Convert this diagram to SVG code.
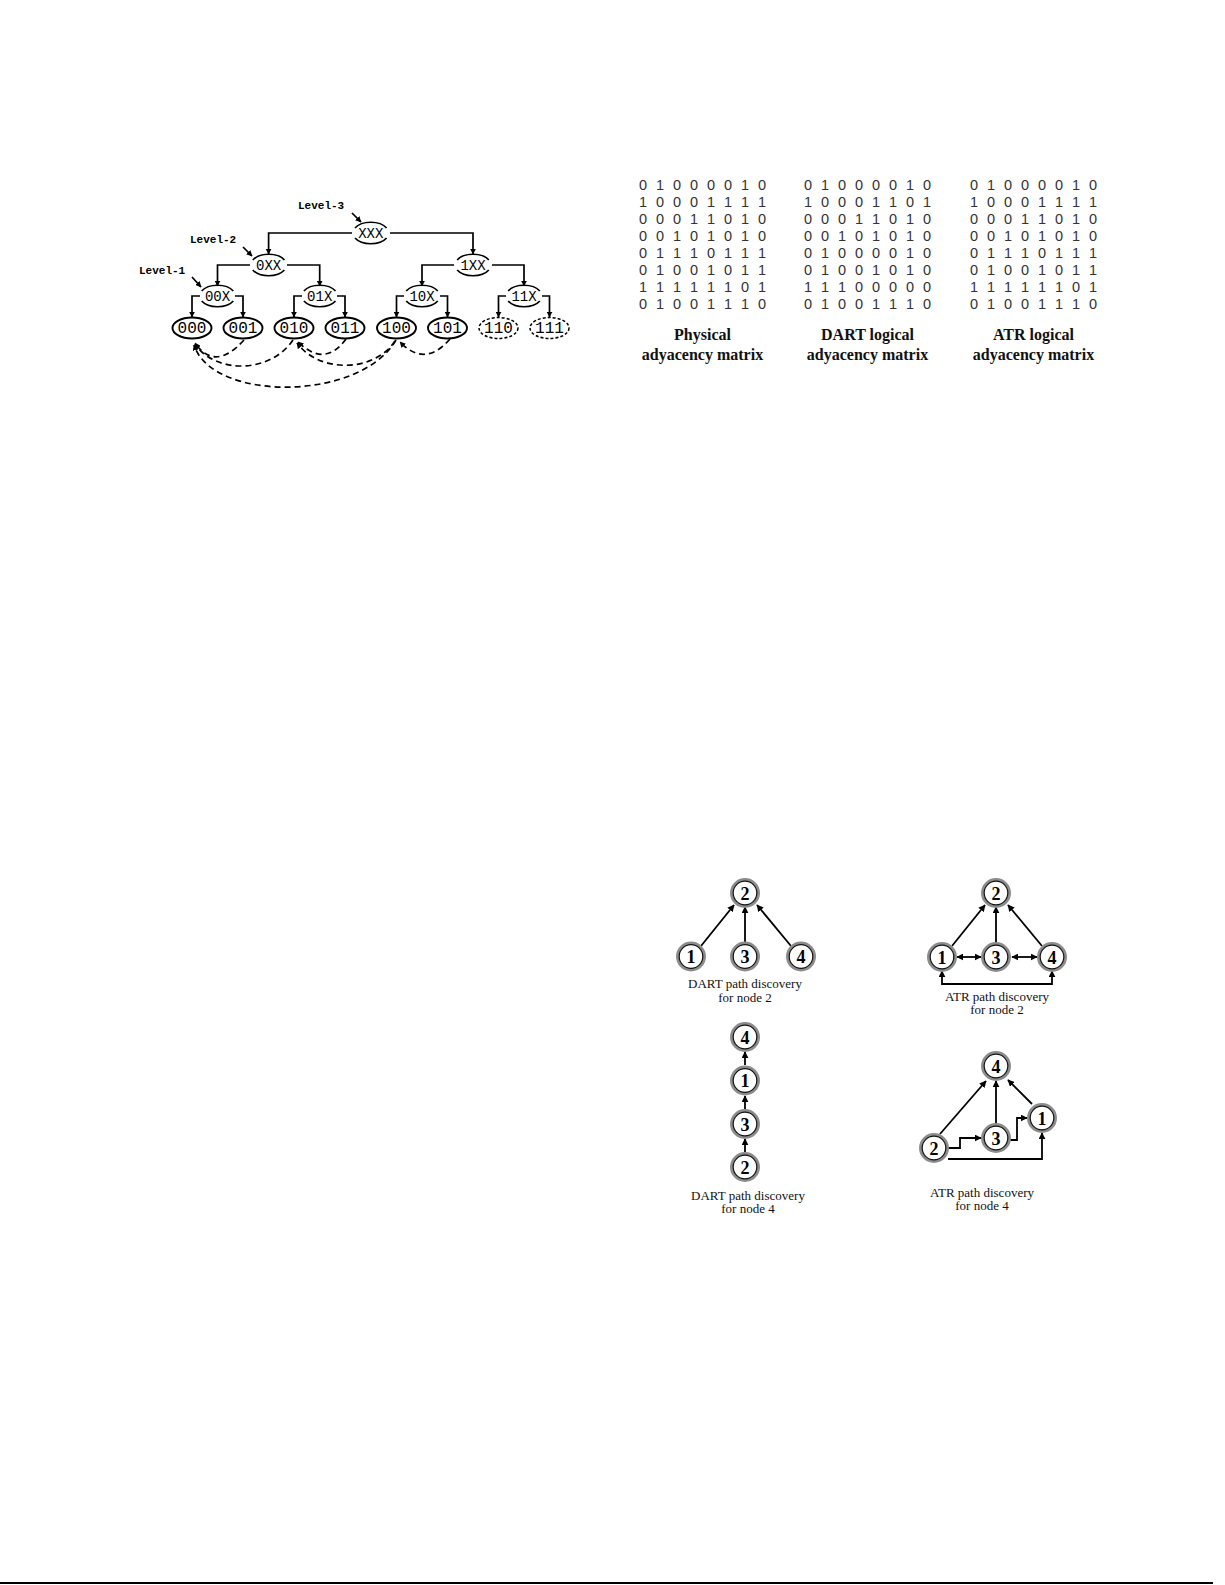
<svg xmlns="http://www.w3.org/2000/svg" width="1225" height="1585" viewBox="0 0 1225 1585">
<style>
.bg{fill:#fff}
.ln{fill:none;stroke:#000;stroke-width:1.7}
.dl{fill:none;stroke:#000;stroke-width:1.7;stroke-dasharray:6 4}
.arc{fill:none;stroke:#000;stroke-width:1.7}
.leaf{fill:#fff;stroke:#000;stroke-width:1.9}
.leafd{fill:#fff;stroke:#000;stroke-width:1.5;stroke-dasharray:3 2}
.lt{font-family:"Liberation Mono",monospace;font-size:16px;text-anchor:middle;fill:#000}
.nl{font-family:"Liberation Mono",monospace;font-size:14px;text-anchor:middle;fill:#000}
.lvl{font-family:"Liberation Mono",monospace;font-size:11px;font-weight:bold;fill:#000}
.mx{font-family:"Liberation Sans",Arial,sans-serif;font-size:14.5px;fill:#333;text-anchor:middle}
.mc{font-family:"Liberation Serif",serif;font-size:16px;font-weight:bold;fill:#111;text-anchor:middle}
.gc{font-family:"Liberation Serif",serif;font-size:13px;fill:#111;text-anchor:middle}
.no{fill:#fff;stroke:#8c8c8c;stroke-width:3}
.ni{fill:none;stroke:#111;stroke-width:1.2}
.nt{font-family:"Liberation Serif",serif;font-size:18px;font-weight:bold;text-anchor:middle;fill:#000}
.ga{fill:none;stroke:#000;stroke-width:1.8}
</style>
<defs>
<marker id="t" viewBox="0 0 10 10" refX="9" refY="5" markerUnits="userSpaceOnUse" markerWidth="6" markerHeight="6" orient="auto"><path d="M0,0 L10,5 L0,10 z" fill="#000"/></marker>
<marker id="g" viewBox="0 0 10 10" refX="9" refY="5" markerUnits="userSpaceOnUse" markerWidth="7" markerHeight="7" orient="auto-start-reverse"><path d="M0,0 L10,5 L0,10 z" fill="#000"/></marker>
</defs>
<rect class="bg" x="0" y="0" width="1225" height="1585"/>

<!-- Tree -->
<g id="tree-labels">
<text class="lvl" x="298" y="209">Level-3</text>
<text class="lvl" x="190" y="243">Level-2</text>
<text class="lvl" x="139" y="274">Level-1</text>
</g>
<g id="n-XXX"><path class="arc" d="M355,228 A18,11 0 0 1 386.6,228 M355,238 A18,11 0 0 0 386.6,238"/><text class="nl" x="370.8" y="238">XXX</text></g>
<g id="n-0XX"><path class="arc" d="M252.8,260 A18,11 0 0 1 284.4,260 M252.8,270 A18,11 0 0 0 284.4,270"/><text class="nl" x="268.6" y="270">0XX</text></g>
<g id="n-1XX"><path class="arc" d="M457.2,260 A18,11 0 0 1 488.8,260 M457.2,270 A18,11 0 0 0 488.8,270"/><text class="nl" x="473" y="270">1XX</text></g>
<g id="n-00X"><path class="arc" d="M201.7,291 A18,11 0 0 1 233.3,291 M201.7,301 A18,11 0 0 0 233.3,301"/><text class="nl" x="217.5" y="301">00X</text></g>
<g id="n-01X"><path class="arc" d="M303.9,291 A18,11 0 0 1 335.5,291 M303.9,301 A18,11 0 0 0 335.5,301"/><text class="nl" x="319.7" y="301">01X</text></g>
<g id="n-10X"><path class="arc" d="M406.2,291 A18,11 0 0 1 437.8,291 M406.2,301 A18,11 0 0 0 437.8,301"/><text class="nl" x="422" y="301">10X</text></g>
<g id="n-11X"><path class="arc" d="M508.2,291 A18,11 0 0 1 539.8,291 M508.2,301 A18,11 0 0 0 539.8,301"/><text class="nl" x="524" y="301">11X</text></g>
<g id="n-000"><ellipse class="leaf" cx="192" cy="328" rx="19.5" ry="10.5"/><text class="lt" x="192" y="333">000</text></g>
<g id="n-001"><ellipse class="leaf" cx="243" cy="328" rx="19.5" ry="10.5"/><text class="lt" x="243" y="333">001</text></g>
<g id="n-010"><ellipse class="leaf" cx="294" cy="328" rx="19.5" ry="10.5"/><text class="lt" x="294" y="333">010</text></g>
<g id="n-011"><ellipse class="leaf" cx="345" cy="328" rx="19.5" ry="10.5"/><text class="lt" x="345" y="333">011</text></g>
<g id="n-100"><ellipse class="leaf" cx="396.5" cy="328" rx="19.5" ry="10.5"/><text class="lt" x="396.5" y="333">100</text></g>
<g id="n-101"><ellipse class="leaf" cx="447.5" cy="328" rx="19.5" ry="10.5"/><text class="lt" x="447.5" y="333">101</text></g>
<g id="n-110"><ellipse class="leafd" cx="498.5" cy="328" rx="19.5" ry="10.5"/><text class="lt" x="498.5" y="333">110</text></g>
<g id="n-111"><ellipse class="leafd" cx="549.5" cy="328" rx="19.5" ry="10.5"/><text class="lt" x="549.5" y="333">111</text></g>

<g id="tree-connectors">
<path class="ln" marker-end="url(#t)" d="M352,213 L361,222"/>
<path class="ln" marker-end="url(#t)" d="M243,247 L252,256"/>
<path class="ln" marker-end="url(#t)" d="M192,277 L201,287"/>
<path class="ln" marker-end="url(#t)" d="M352,233 H268.6 V254"/>
<path class="ln" marker-end="url(#t)" d="M390,233 H473 V254"/>
<path class="ln" marker-end="url(#t)" d="M250,265 H217.5 V286"/>
<path class="ln" marker-end="url(#t)" d="M287,265 H319.7 V286"/>
<path class="ln" marker-end="url(#t)" d="M454,265 H422 V286"/>
<path class="ln" marker-end="url(#t)" d="M492,265 H524 V286"/>
<path class="ln" marker-end="url(#t)" d="M200,296 H192 V317"/>
<path class="ln" marker-end="url(#t)" d="M235,296 H243 V317"/>
<path class="ln" marker-end="url(#t)" d="M302,296 H294 V317"/>
<path class="ln" marker-end="url(#t)" d="M337,296 H345 V317"/>
<path class="ln" marker-end="url(#t)" d="M404,296 H396.5 V317"/>
<path class="ln" marker-end="url(#t)" d="M440,296 H447.5 V317"/>
<path class="ln" marker-end="url(#t)" d="M506,296 H498.5 V317"/>
<path class="ln" marker-end="url(#t)" d="M542,296 H549.5 V317"/>
<path class="dl" marker-end="url(#t)" d="M244,340 Q215,372 195,343"/>
<path class="dl" marker-end="url(#t)" d="M293,340 C270,374 215,374 195,344"/>
<path class="dl" marker-end="url(#t)" d="M396,340 C360,402 212,402 194,345"/>
<path class="dl" marker-end="url(#t)" d="M346,339 Q325,368 298,342"/>
<path class="dl" marker-end="url(#t)" d="M395,341 C375,372 320,374 297,343"/>
<path class="dl" marker-end="url(#t)" d="M450,339 Q425,368 400,342"/>
</g>

<!-- Matrices -->
<g id="m-physical">
<text class="mx" x="643 660 677 694 711 728 745 762" y="190">01000010</text>
<text class="mx" x="643 660 677 694 711 728 745 762" y="207">10001111</text>
<text class="mx" x="643 660 677 694 711 728 745 762" y="224">00011010</text>
<text class="mx" x="643 660 677 694 711 728 745 762" y="241">00101010</text>
<text class="mx" x="643 660 677 694 711 728 745 762" y="258">01110111</text>
<text class="mx" x="643 660 677 694 711 728 745 762" y="275">01001011</text>
<text class="mx" x="643 660 677 694 711 728 745 762" y="292">11111101</text>
<text class="mx" x="643 660 677 694 711 728 745 762" y="308.5">01001110</text>
<text class="mc" x="702.5" y="340">Physical</text>
<text class="mc" x="702.5" y="360">adyacency matrix</text>
</g>
<g id="m-dart">
<text class="mx" x="808 825 842 859 876 893 910 927" y="190">01000010</text>
<text class="mx" x="808 825 842 859 876 893 910 927" y="207">10001101</text>
<text class="mx" x="808 825 842 859 876 893 910 927" y="224">00011010</text>
<text class="mx" x="808 825 842 859 876 893 910 927" y="241">00101010</text>
<text class="mx" x="808 825 842 859 876 893 910 927" y="258">01000010</text>
<text class="mx" x="808 825 842 859 876 893 910 927" y="275">01001010</text>
<text class="mx" x="808 825 842 859 876 893 910 927" y="292">11100000</text>
<text class="mx" x="808 825 842 859 876 893 910 927" y="308.5">01001110</text>
<text class="mc" x="867.5" y="340">DART logical</text>
<text class="mc" x="867.5" y="360">adyacency matrix</text>
</g>
<g id="m-atr">
<text class="mx" x="974 991 1008 1025 1042 1059 1076 1093" y="190">01000010</text>
<text class="mx" x="974 991 1008 1025 1042 1059 1076 1093" y="207">10001111</text>
<text class="mx" x="974 991 1008 1025 1042 1059 1076 1093" y="224">00011010</text>
<text class="mx" x="974 991 1008 1025 1042 1059 1076 1093" y="241">00101010</text>
<text class="mx" x="974 991 1008 1025 1042 1059 1076 1093" y="258">01110111</text>
<text class="mx" x="974 991 1008 1025 1042 1059 1076 1093" y="275">01001011</text>
<text class="mx" x="974 991 1008 1025 1042 1059 1076 1093" y="292">11111101</text>
<text class="mx" x="974 991 1008 1025 1042 1059 1076 1093" y="308.5">01001110</text>
<text class="mc" x="1033.5" y="340">ATR logical</text>
<text class="mc" x="1033.5" y="360">adyacency matrix</text>
</g>

<!-- Graph connectors -->
<g id="graph-connectors">
<path class="ga" marker-end="url(#g)" d="M701,946 L734,905"/>
<path class="ga" marker-end="url(#g)" d="M745,943 L745,907"/>
<path class="ga" marker-end="url(#g)" d="M791,946 L757,905"/>
<path class="ga" marker-end="url(#g)" d="M952,946 L985,905"/>
<path class="ga" marker-end="url(#g)" d="M996,943 L996,907"/>
<path class="ga" marker-end="url(#g)" d="M1042,946 L1008,905"/>
<path class="ga" marker-start="url(#g)" marker-end="url(#g)" d="M957,957 L981,957"/>
<path class="ga" marker-start="url(#g)" marker-end="url(#g)" d="M1012,957 L1037,957"/>
<path class="ga" marker-start="url(#g)" marker-end="url(#g)" d="M942,971 V984 H1052 V971"/>
<path class="ga" marker-end="url(#g)" d="M745,1152 L745,1139"/>
<path class="ga" marker-end="url(#g)" d="M745,1109 L745,1096"/>
<path class="ga" marker-end="url(#g)" d="M745,1065 L745,1052"/>
<path class="ga" marker-end="url(#g)" d="M940,1134 L986,1081"/>
<path class="ga" marker-end="url(#g)" d="M996,1124 L996,1081"/>
<path class="ga" marker-end="url(#g)" d="M1032,1104 L1008,1080"/>
<path class="ga" marker-end="url(#g)" d="M948,1148 H960 V1138 H981"/>
<path class="ga" marker-end="url(#g)" d="M1010,1140 H1017 V1118 H1027"/>
<path class="ga" marker-end="url(#g)" d="M948,1159 H1042 V1133"/>
</g>

<!-- DART node 2 -->
<g id="d2-n2"><circle class="no" cx="745" cy="893" r="13.5"/><circle class="ni" cx="745" cy="893" r="11.8"/><text class="nt" x="745" y="899.5">2</text></g>
<g id="d2-n1"><circle class="no" cx="691" cy="956.5" r="13.5"/><circle class="ni" cx="691" cy="956.5" r="11.8"/><text class="nt" x="691" y="963">1</text></g>
<g id="d2-n3"><circle class="no" cx="745" cy="956.5" r="13.5"/><circle class="ni" cx="745" cy="956.5" r="11.8"/><text class="nt" x="745" y="963">3</text></g>
<g id="d2-n4"><circle class="no" cx="801" cy="956.5" r="13.5"/><circle class="ni" cx="801" cy="956.5" r="11.8"/><text class="nt" x="801" y="963">4</text></g>
<g id="d2-label"><text class="gc" x="745" y="988">DART path discovery</text><text class="gc" x="745" y="1002">for node 2</text></g>

<!-- ATR node 2 -->
<g id="a2-n2"><circle class="no" cx="996" cy="893" r="13.5"/><circle class="ni" cx="996" cy="893" r="11.8"/><text class="nt" x="996" y="899.5">2</text></g>
<g id="a2-n1"><circle class="no" cx="942" cy="957" r="13.5"/><circle class="ni" cx="942" cy="957" r="11.8"/><text class="nt" x="942" y="963.5">1</text></g>
<g id="a2-n3"><circle class="no" cx="996" cy="957" r="13.5"/><circle class="ni" cx="996" cy="957" r="11.8"/><text class="nt" x="996" y="963.5">3</text></g>
<g id="a2-n4"><circle class="no" cx="1052" cy="957" r="13.5"/><circle class="ni" cx="1052" cy="957" r="11.8"/><text class="nt" x="1052" y="963.5">4</text></g>
<g id="a2-label"><text class="gc" x="997" y="1001">ATR path discovery</text><text class="gc" x="997" y="1014">for node 2</text></g>

<!-- DART node 4 -->
<g id="d4-n4"><circle class="no" cx="745" cy="1037" r="13.5"/><circle class="ni" cx="745" cy="1037" r="11.8"/><text class="nt" x="745" y="1043.5">4</text></g>
<g id="d4-n1"><circle class="no" cx="745" cy="1080.5" r="13.5"/><circle class="ni" cx="745" cy="1080.5" r="11.8"/><text class="nt" x="745" y="1087">1</text></g>
<g id="d4-n3"><circle class="no" cx="745" cy="1124" r="13.5"/><circle class="ni" cx="745" cy="1124" r="11.8"/><text class="nt" x="745" y="1130.5">3</text></g>
<g id="d4-n2"><circle class="no" cx="745" cy="1167" r="13.5"/><circle class="ni" cx="745" cy="1167" r="11.8"/><text class="nt" x="745" y="1173.5">2</text></g>
<g id="d4-label"><text class="gc" x="748" y="1200">DART path discovery</text><text class="gc" x="748" y="1213">for node 4</text></g>

<!-- ATR node 4 -->
<g id="a4-n4"><circle class="no" cx="996" cy="1066" r="13.5"/><circle class="ni" cx="996" cy="1066" r="11.8"/><text class="nt" x="996" y="1072.5">4</text></g>
<g id="a4-n1"><circle class="no" cx="1042" cy="1118" r="13.5"/><circle class="ni" cx="1042" cy="1118" r="11.8"/><text class="nt" x="1042" y="1124.5">1</text></g>
<g id="a4-n3"><circle class="no" cx="996" cy="1138" r="13.5"/><circle class="ni" cx="996" cy="1138" r="11.8"/><text class="nt" x="996" y="1144.5">3</text></g>
<g id="a4-n2"><circle class="no" cx="934" cy="1148" r="13.5"/><circle class="ni" cx="934" cy="1148" r="11.8"/><text class="nt" x="934" y="1154.5">2</text></g>
<g id="a4-label"><text class="gc" x="982" y="1197">ATR path discovery</text><text class="gc" x="982" y="1210">for node 4</text></g>

<line x1="0" y1="1583" x2="1213" y2="1583" stroke="#000" stroke-width="2"/>
</svg>
